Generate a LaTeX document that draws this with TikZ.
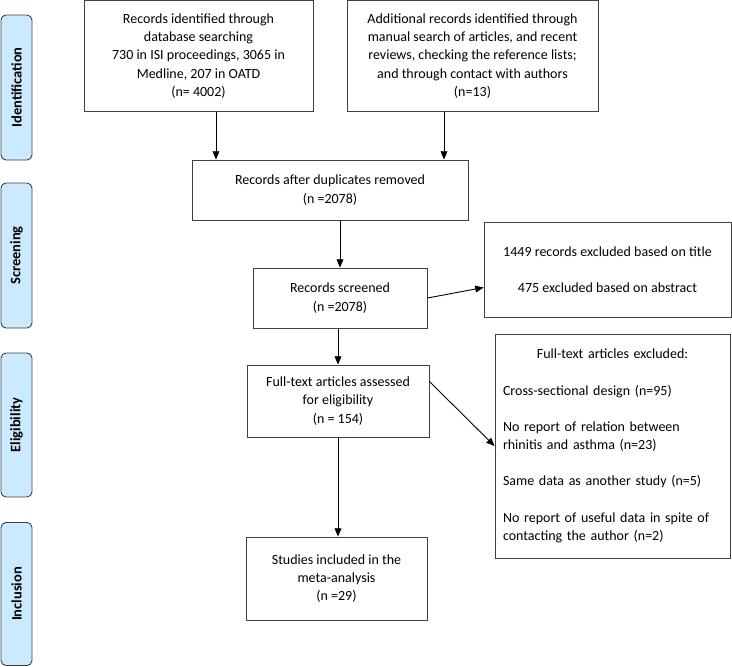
\documentclass[tikz,border=0pt]{standalone}
\usepackage{xcolor}
\usepackage{fontspec}
\setmainfont{Carlito}
\usepackage{tikz}
\definecolor{boxgray}{RGB}{64, 64, 64}
\definecolor{phaseblue}{RGB}{204, 234, 255}
\usetikzlibrary{arrows,positioning,calc}

\begin{document}
\begin{tikzpicture}[
    x=1pt, y=-1pt,
    >=triangle 45,
    record/.style={
        rectangle,
        draw=boxgray,
        line width=0.9pt,
        align=center,
        inner sep=2pt,
        font=\fontsize{14}{18.3}\selectfont
    },
    phase/.style={
        rectangle,
        rounded corners=5pt,
        draw=boxgray,
        line width=0.9pt,
        fill=phaseblue,
        rotate=90,
        minimum height=31pt,
        font=\fontsize{14.5}{16}\selectfont\bfseries
    },
    flow/.style={->, line width=0.9pt, black}
]
    \useasboundingbox (0,0) rectangle (732,667);

    % Phases
    \node[phase, minimum width=145pt] (ident) at (16.5,87.5) {Identification};
    \node[phase, minimum width=145pt] (screen) at (16.5,255.5) {Screening};
    \node[phase, minimum width=144pt] (elig) at (16.5,425) {Eligibility};
    \node[phase, minimum width=143pt] (incl) at (16.5,594) {Inclusion};

    % Identification
    \node[record, minimum width=229pt, minimum height=111pt] (dbase) at (198.5,56) {Records identified through\\database searching\\730 in ISI proceedings, 3065 in\\Medline, 207 in OATD\\(n= 4002)};
    \node[record, minimum width=251pt, minimum height=111pt] (manual) at (472.5,56) {Additional records identified through\\manual search of articles, and recent\\reviews, checking the reference lists;\\and through contact with authors\\(n=13)};

    % Screening
    \node[record, minimum width=276pt, minimum height=60pt] (dedup) at (330,190) {Records after duplicates removed\\(n =2078)};
    \node[record, minimum width=174pt, minimum height=60pt] (screened) at (340,298) {Records screened\\(n =2078)};
    \node[record, minimum width=247pt, minimum height=95pt] (titleout) at (607.5,269.5) {1449 records excluded based on title\\[18pt]475 excluded based on abstract};

    % Eligibility
    \node[record, minimum width=182pt, minimum height=72pt] (fulltext) at (338,401) {Full-text articles assessed\\for eligibility\\(n = 154)};
    \node[record, minimum width=235pt, minimum height=224pt, text width=219pt, align=left] (textout) at (612.5,446) {\centerline{Full-text articles excluded:}\\[18pt]Cross-sectional design (n=95)\\[18pt]No report of relation between\\rhinitis and asthma (n=23)\\[18pt]Same data as another study (n=5)\\[18pt]No report of useful data in spite of\\contacting the author (n=2)};

    % Inclusion
    \node[record, minimum width=181pt, minimum height=83pt] (included) at (336.5,578.5) {Studies included in the\\meta-analysis\\(n =29)};

    % Arrows
    \draw[flow] ([xshift=17.5pt]dbase.south) -- ([xshift=17.5pt]dbase.south |- dedup.north);
    \draw[flow] ([xshift=-28.5pt]manual.south) -- ([xshift=-28.5pt]manual.south |- dedup.north);
    \draw[flow] (screened.north |- dedup.south) -- (screened.north);
    \draw[flow] (screened.east) -- ([yshift=-18pt]titleout.west);
    \draw[flow] (fulltext.north |- screened.south) -- (fulltext.north);
    \draw[flow] ([yshift=-17pt]fulltext.north east) -- (textout.west);
    \draw[flow] (fulltext.south) -- (fulltext.south |- included.north);
\end{tikzpicture}
\end{document}
